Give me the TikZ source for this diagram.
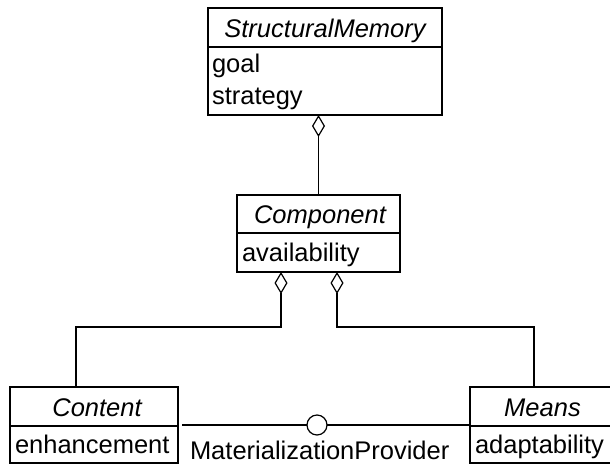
\documentclass[tikz,border=0pt]{standalone}
\usepackage{fontspec}
\usetikzlibrary{arrows.meta,calc}
\newfontfamily\umlfont{Liberation Sans}
\begin{document}
\begin{tikzpicture}[x=1pt,y=-1pt,
  every node/.style={inner sep=0pt, outer sep=0pt},
  classbox/.style={draw, rectangle, line width=1.2pt},
  sepline/.style={line width=1.2pt},
  conn/.style={line width=1.2pt},
  agg/.style={{Diamond[open,length=22pt,width=13pt]}-},
  hdr/.style={font=\umlfont\fontsize{25.5}{30}\selectfont\itshape, anchor=base},
  attr/.style={font=\umlfont\fontsize{25.5}{30}\selectfont, anchor=base west}]
  % page frame
  \useasboundingbox (0,0) rectangle (610,464);
  \fill[white] (0,0) rectangle (610,464);
  \clip (0,0) rectangle (610,464);

  % class boxes
  \node[classbox, minimum width=234pt, minimum height=107pt] (sm) at (325,61.5) {};
  \node[classbox, minimum width=163pt, minimum height=77pt] (comp) at (318.5,233.5) {};
  \node[classbox, minimum width=168pt, minimum height=76pt] (cont) at (94,425) {};
  \node[classbox, minimum width=141pt, minimum height=76pt] (means) at (540.5,425) {};

  % compartment separators
  \draw[sepline] ($(sm.north west)+(0,39)$) -- ($(sm.north east)+(0,39)$);
  \draw[sepline] ($(comp.north west)+(0,38)$) -- ($(comp.north east)+(0,38)$);
  \draw[sepline] ($(cont.north west)+(0,39)$) -- ($(cont.north east)+(0,39)$);
  \draw[sepline] ($(means.north west)+(0,39)$) -- ($(means.north east)+(0,39)$);

  % class names and attributes
  \node[hdr] (smname) at ($(sm.north)+(0,29)$) {StructuralMemory};
  \node[attr] (smgoal) at ($(sm.north west)+(4,64)$) {goal};
  \node[attr] (smstrat) at ($(sm.north west)+(4,96)$) {strategy};

  \node[hdr] (compname) at ($(comp.north)+(1.5,28)$) {Component};
  \node[attr] (compavail) at ($(comp.north west)+(5,66)$) {availability};

  \node[hdr] (contname) at ($(cont.north)+(3,29)$) {Content};
  \node[attr] (contenh) at ($(cont.north west)+(5,66)$) {enhancement};

  \node[hdr] (meansname) at ($(means.north)+(2,29)$) {Means};
  \node[attr] (meansadapt) at ($(means.north west)+(5,66)$) {adaptability};

  % aggregations
  \draw[conn, agg] (sm.south -| comp.north) -- (comp.north);
  \draw[conn, agg] ($(comp.south)+(-37.5,0)$) -- ++(0,55) -| ($(cont.north)+(-18,0)$);
  \draw[conn, agg] ($(comp.south)+(18.5,0)$) -- ++(0,55) -| ($(means.north)+(-6.5,0)$);

  % provided interface (lollipop) between Content and Means
  \node[draw, circle, line width=1.2pt, minimum size=20pt] (iface) at (317,425) {};
  \draw[conn] ($(cont.east)+(4,0)$) -- (iface);
  \draw[conn] (iface) -- (means.west);
  \node[attr] (ifacelabel) at (190,459) {MaterializationProvider};
\end{tikzpicture}
\end{document}
